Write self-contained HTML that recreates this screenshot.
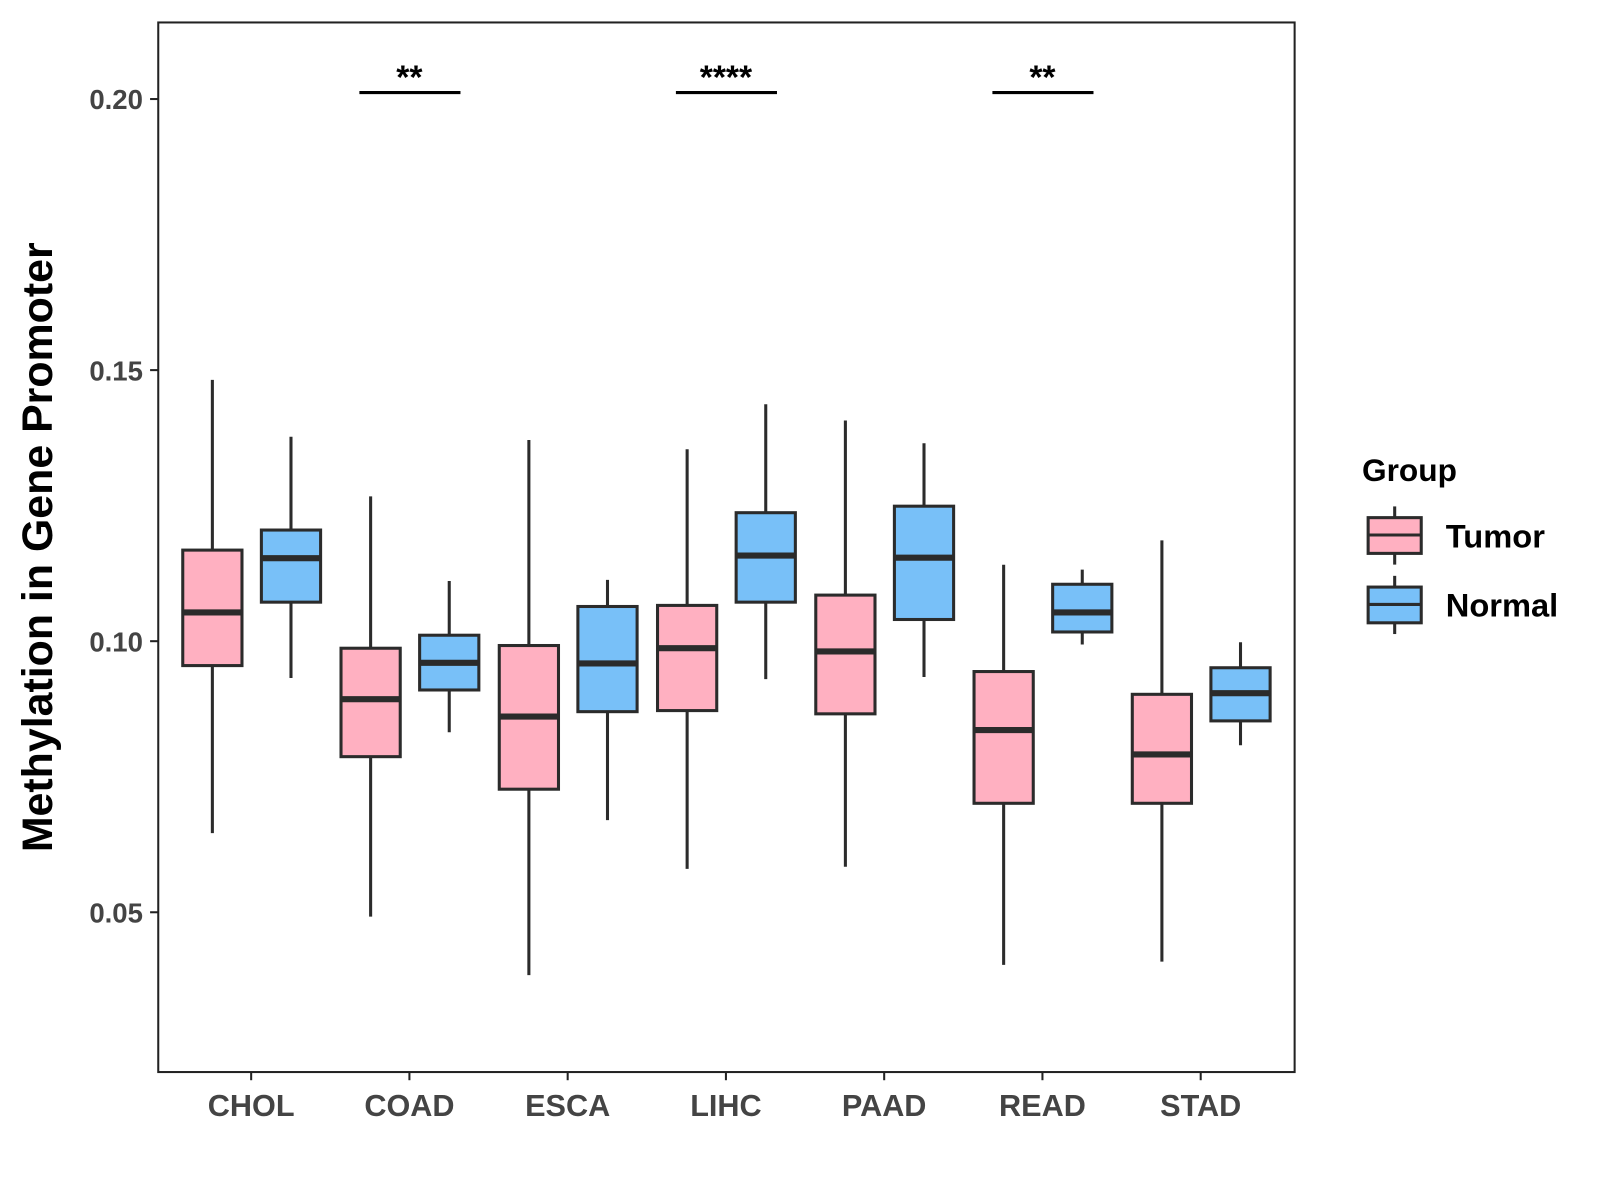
<!DOCTYPE html>
<html><head><meta charset="utf-8"><style>
body{margin:0;background:#fff}
svg{display:block;font-family:"Liberation Sans",Arial,sans-serif;font-weight:bold}
</style></head><body>
<svg id="chart" width="1600" height="1200" viewBox="0 0 1600 1200">
<g transform="scale(1.021)">
<rect x="155" y="22" width="1113" height="1028" fill="#fff" stroke="#222" stroke-width="2"/>
<g id="marks"></g>
<text transform="translate(51,536) rotate(-90)" text-anchor="middle" font-size="42" fill="#000">Methylation in Gene Promoter</text>
<g>
<text x="1334" y="471" font-size="31" fill="#000">Group</text>
<g>
<line x1="1366" y1="496" x2="1366" y2="553" stroke="#2b2b2b" stroke-width="3"/>
<rect x="1340" y="507" width="52" height="35" fill="#FFB0C1" stroke="#2b2b2b" stroke-width="3"/>
<line x1="1340" y1="524" x2="1392" y2="524" stroke="#2b2b2b" stroke-width="3"/>
<text x="1416" y="536" font-size="32" fill="#000">Tumor</text></g>
<g>
<line x1="1366" y1="564" x2="1366" y2="621" stroke="#2b2b2b" stroke-width="3"/>
<rect x="1340" y="575" width="52" height="35" fill="#78C0F8" stroke="#2b2b2b" stroke-width="3"/>
<line x1="1340" y1="592" x2="1392" y2="592" stroke="#2b2b2b" stroke-width="3"/>
<text x="1416" y="604" font-size="32" fill="#000">Normal</text></g>
</g>
</g>
</svg>
<script>
const categories=["CHOL","COAD","ESCA","LIHC","PAAD","READ","STAD"];
// [lowerWhisker, q1, median, q3, upperWhisker]
const tumorStats=[[.0646,.0955,.1053,.1168,.1482],[.0492,.0787,.0893,.0987,.1267],[.0384,.0727,.0861,.0992,.1371],[.0580,.0872,.0987,.1066,.1354],[.0584,.0866,.0981,.1085,.1407],[.0403,.0701,.0836,.0944,.1141],[.0409,.0701,.0791,.0902,.1186]];
const normalStats=[[.0932,.1072,.1153,.1205,.1377],[.0832,.0910,.0960,.1011,.1111],[.0670,.0870,.0959,.1064,.1113],[.0930,.1072,.1158,.1237,.1437],[.0934,.1040,.1154,.1249,.1365],[.0994,.1017,.1053,.1105,.1132],[.0808,.0853,.0904,.0951,.0998]];
const yTicks=[0.05,0.10,0.15,0.20];
const yTickLabels=["0.05","0.10","0.15","0.20"];
const sigCategories=["COAD","LIHC","READ"];
const sigLabels=["**","****","**"];
const sigValue=0.2012;

const NS="http://www.w3.org/2000/svg";
const g=document.getElementById('marks');
function y(v){return 628-(v-0.10)*5310;}
function x(i){return 246+i*155;}
function mk(tag,attrs,parent){const e=document.createElementNS(NS,tag);for(const k in attrs)e.setAttribute(k,attrs[k]);(parent||g).appendChild(e);return e;}
yTicks.forEach((t,i)=>{
  const l=mk('line',{x1:147,x2:155,y1:y(t),y2:y(t),stroke:'#222','stroke-width':2});
  
  
  const tx=mk('text',{x:140,y:y(t)+10,'text-anchor':'end','font-size':27,fill:'#444'});
  tx.textContent=yTickLabels[i];
  
  
});
categories.forEach((c,i)=>{
  const l=mk('line',{x1:x(i),x2:x(i),y1:1050,y2:1058,stroke:'#222','stroke-width':2});
  
  
  const tx=mk('text',{x:x(i),y:1093,'text-anchor':'middle','font-size':30,fill:'#444'});
  tx.textContent=c;
  
  
});
function box(s,cx,fill,name){
  const grp=mk('g',{});
  
  
  mk('line',{x1:cx,x2:cx,y1:y(s[0]),y2:y(s[4]),stroke:'#2b2b2b','stroke-width':3},grp);
  mk('rect',{x:cx-29,y:y(s[3]),width:58,height:y(s[1])-y(s[3]),fill:fill,stroke:'#2b2b2b','stroke-width':3},grp);
  mk('line',{x1:cx-29,x2:cx+29,y1:y(s[2]),y2:y(s[2]),stroke:'#2b2b2b','stroke-width':6},grp);
}
categories.forEach((c,i)=>{
  box(tumorStats[i],x(i)-38,'#FFB0C1','box-tumor-'+c.toLowerCase());
  box(normalStats[i],x(i)+39,'#78C0F8','box-normal-'+c.toLowerCase());
});
sigCategories.forEach((c,k)=>{
  const i=categories.indexOf(c);
  const l=mk('line',{x1:x(i)-49,x2:x(i)+50,y1:y(sigValue),y2:y(sigValue),stroke:'#000','stroke-width':3});
  
  
  const t=mk('text',{x:x(i),y:y(sigValue)-4,'text-anchor':'middle','font-size':33,fill:'#000'});
  t.textContent=sigLabels[k];
  
  
});
</script>
</body></html>
